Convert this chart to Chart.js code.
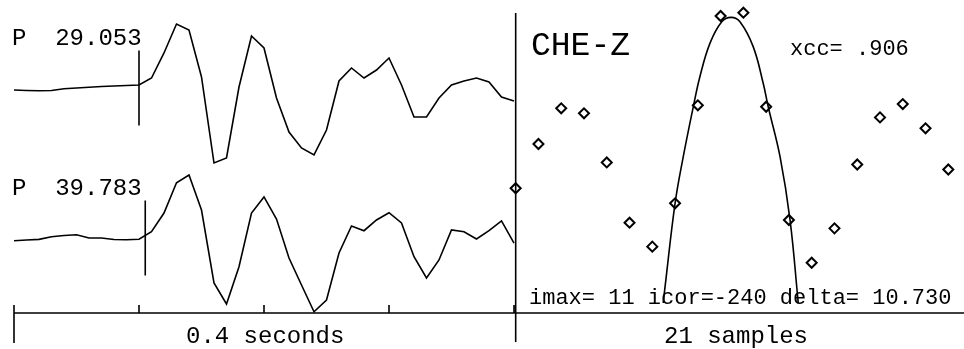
<!DOCTYPE html>
<html>
<head>
<meta charset="utf-8">
<title>CHE-Z</title>
<script src="https://cdn.jsdelivr.net/npm/chart.js@4.4.1/dist/chart.umd.min.js"></script>
<style>
  body { margin: 0; background: #ffffff; }
  #wrap { width: 964px; height: 349px; }
</style>
</head>
<body>
<div id="wrap"><canvas id="chart-che" width="964" height="349"></canvas></div>
<script>
// Traços (amplitude normalizada), uma amostra por posição
var trace1 = [-0.027, -0.033, -0.036, -0.033, -0.009, 0.0, 0.009, 0.02, 0.027, 0.033,
  0.04, 0.133, 0.467, 0.853, 0.773, 0.147, -1.0, -0.933, 0.013, 0.693,
  0.533, -0.133, -0.587, -0.8, -0.893, -0.56, 0.093, 0.267, 0.133, 0.24,
  0.4, 0.04, -0.387, -0.387, -0.133, 0.04, 0.093, 0.133, 0.08, -0.12, -0.173];
var trace2 = [-0.036, -0.027, -0.018, 0.017, 0.033, 0.044, 0.0, 0.0, -0.02, -0.023,
  -0.017, 0.084, 0.333, 0.737, 0.84, 0.373, -0.6, -0.88, -0.383, 0.333,
  0.547, 0.253, -0.267, -0.627, -0.983, -0.827, -0.2, 0.16, 0.097, 0.24,
  0.337, 0.2, -0.249, -0.533, -0.293, 0.107, 0.084, -0.013, 0.097, 0.227, -0.067];
var traceLabels = ["P  29.053", "P  39.783"];
var pickSample = [10, 10.5];
var pickSpan = [0.5, -0.5];
var secondTicks = [0, 10, 20, 30, 40];

// Correlação cruzada por deslocamento
var lags = [0, 1, 2, 3, 4, 5, 6, 7, 8, 9, 10, 11, 12, 13, 14, 15, 16, 17, 18, 19];
var xcc = [-0.203, 0.08, 0.308, 0.276, -0.038, -0.423, -0.576, -0.299, 0.327, 0.898,
  0.919, 0.318, -0.406, -0.679, -0.459, -0.051, 0.25, 0.335, 0.18, -0.083];

// Parábola ajustada
var fitLag = [6.48, 6.56, 7.0, 7.36, 7.8, 8.09, 8.53, 9.05, 9.46, 9.85, 10.43, 10.87, 11.09, 11.61, 12.05, 12.41];
var fitCc = [-0.936, -0.832, -0.299, -0.001, 0.318, 0.51, 0.723, 0.861, 0.889, 0.861, 0.702, 0.468, 0.318, -0.001, -0.406, -0.936];

function toPoints(xs, ys) {
    return ys.map(function(v, i) { return { x: xs[i], y: v }; });
}

function sampleIndex(arr) {
    return arr.map(function(v, i) { return i; });
}

var FONT = "'Liberation Mono', 'DejaVu Sans Mono', monospace";

// Moldura: eixo, marcas e divisória
var framePlugin = {
    id: "frame",
    afterDatasetsDraw: function(chart) {
        var ctx = chart.ctx;
        var xt = chart.scales.xt, xr = chart.scales.xr, yr = chart.scales.yr;
        var area = chart.chartArea;
        var axisY = yr.getPixelForValue(-1);
        ctx.save();
        ctx.strokeStyle = "#000";
        ctx.lineWidth = 1.6;
        ctx.beginPath();
        ctx.moveTo(xt.getPixelForValue(0), axisY);
        ctx.lineTo(area.right, axisY);
        secondTicks.forEach(function(t, i) {
            var px = xt.getPixelForValue(t);
            ctx.moveTo(px, axisY - 8);
            ctx.lineTo(px, i == 0 ? axisY + 30 : axisY);
        });
        var dx = xr.getPixelForValue(0);
        ctx.moveTo(dx, area.top + 13);
        ctx.lineTo(dx, axisY + 29);
        ctx.stroke();

        ctx.fillStyle = "#000";
        ctx.textBaseline = "alphabetic";
        ctx.font = "24px " + FONT;
        ctx.fillText(traceLabels[0], 12, 45);
        ctx.fillText(traceLabels[1], 12, 195);
        ctx.fillText("0.4 seconds", 186, 343);
        ctx.fillText("21 samples", 664, 343);
        ctx.font = "33px " + FONT;
        ctx.fillText("CHE-Z", 531, 55);
        ctx.font = "22px " + FONT;
        ctx.fillText("xcc= .906", 790, 55);
        ctx.fillText("imax= 11 icor=-240 delta= 10.730", 529, 304);
        ctx.restore();
    }
};

function buildChart() {
    var ctx = document.getElementById("chart-che").getContext("2d");
    var line = { borderColor: "#000", borderWidth: 1.6, pointRadius: 0, fill: false, tension: 0, clip: false };

    new Chart(ctx, {
        type: "line",
        data: {
            datasets: [
                Object.assign({ data: toPoints(sampleIndex(trace1), trace1), xAxisID: "xt", yAxisID: "y1" }, line),
                Object.assign({ data: toPoints(sampleIndex(trace2), trace2), xAxisID: "xt", yAxisID: "y2" }, line),
                Object.assign({ data: toPoints([pickSample[0], pickSample[0]], pickSpan), xAxisID: "xt", yAxisID: "y1" }, line),
                Object.assign({ data: toPoints([pickSample[1], pickSample[1]], pickSpan), xAxisID: "xt", yAxisID: "y2" }, line),
                Object.assign({ data: toPoints(fitLag, fitCc), xAxisID: "xr", yAxisID: "yr" }, line, { tension: 0.4 }),
                {
                    data: toPoints(lags, xcc),
                    xAxisID: "xr",
                    yAxisID: "yr",
                    showLine: false,
                    pointStyle: "rectRot",
                    pointRadius: 5,
                    pointBorderWidth: 2,
                    pointBackgroundColor: "#fff",
                    pointBorderColor: "#000",
                    clip: false
                }
            ]
        },
        options: {
            responsive: false,
            animation: false,
            devicePixelRatio: 1,
            layout: { autoPadding: false, padding: { left: 14, right: 0, top: 0, bottom: 36 } },
            plugins: { legend: { display: false }, tooltip: { enabled: false } },
            scales: {
                xt: { type: "linear", display: false, min: 0, max: 76 },
                xr: { type: "linear", display: false, min: -22.033, max: 19.689 },
                y1: { type: "linear", display: false, min: -3.0, max: 1.1733 },
                y2: { type: "linear", display: false, min: -1.0, max: 3.1733 },
                yr: { type: "linear", display: false, min: -1, max: 1 }
            }
        },
        plugins: [framePlugin]
    });
}

buildChart();
</script>
</body>
</html>
